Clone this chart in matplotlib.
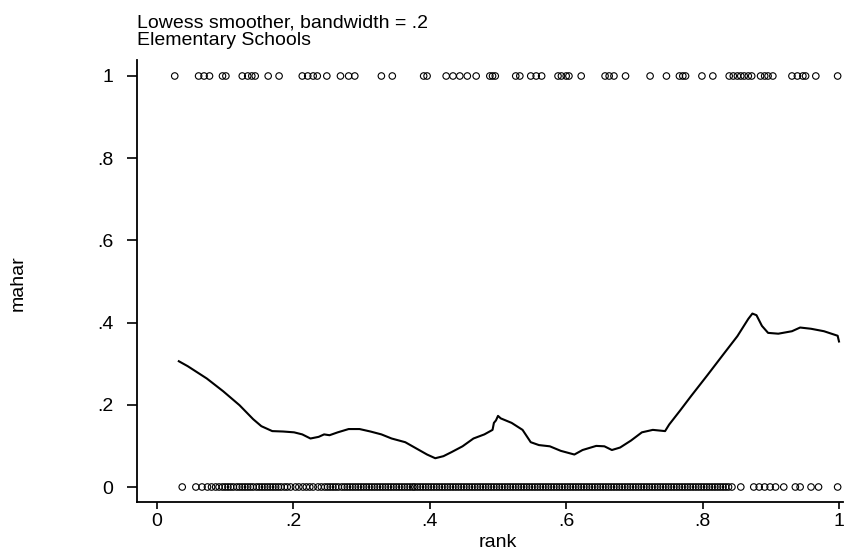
import matplotlib
matplotlib.use("Agg")
import matplotlib.pyplot as plt

plt.rcParams['font.family'] = ['Liberation Sans', 'DejaVu Sans']

title_lines = ["Lowess smoother, bandwidth = .2", "Elementary Schools"]
x_label = "rank"
y_label = "mahar"
x_ticks = [0, 0.2, 0.4, 0.6, 0.8, 1.0]
x_ticklabels = ["0", ".2", ".4", ".6", ".8", "1"]
y_ticks = [0, 0.2, 0.4, 0.6, 0.8, 1.0]
y_ticklabels = ["0", ".2", ".4", ".6", ".8", "1"]

# observations with mahar = 1
rank_mahar1 = [0.026, 0.061, 0.069, 0.077, 0.096, 0.101, 0.125, 0.133, 0.139, 0.144,
               0.163, 0.179, 0.213, 0.221, 0.229, 0.235, 0.249, 0.269, 0.281, 0.290,
               0.329, 0.345, 0.391, 0.396, 0.424, 0.434, 0.444, 0.455, 0.468, 0.488,
               0.492, 0.496, 0.526, 0.532, 0.548, 0.556, 0.564, 0.588, 0.593, 0.600,
               0.604, 0.622, 0.657, 0.663, 0.670, 0.687, 0.723, 0.747, 0.766, 0.771,
               0.775, 0.799, 0.815, 0.839, 0.845, 0.851, 0.856, 0.861, 0.867, 0.872,
               0.885, 0.891, 0.896, 0.903, 0.931, 0.939, 0.947, 0.951, 0.966, 0.998]

# observations with mahar = 0
rank_mahar0 = [0.037, 0.057, 0.066, 0.074, 0.080, 0.086, 0.091, 0.096, 0.100, 0.104,
               0.108, 0.112, 0.117, 0.121, 0.125, 0.129, 0.133, 0.137, 0.141, 0.146,
               0.150, 0.154, 0.158, 0.162, 0.166, 0.170, 0.174, 0.178, 0.182, 0.187,
               0.191, 0.196, 0.203, 0.208, 0.214, 0.219, 0.224, 0.229, 0.236, 0.241,
               0.246, 0.250, 0.254, 0.258, 0.262, 0.266, 0.271, 0.275, 0.279, 0.283,
               0.287, 0.291, 0.295, 0.299, 0.303, 0.307, 0.311, 0.315, 0.319, 0.323,
               0.327, 0.331, 0.335, 0.339, 0.343, 0.347, 0.351, 0.355, 0.359, 0.363,
               0.367, 0.371, 0.375, 0.378, 0.382, 0.386, 0.390, 0.394, 0.398, 0.402,
               0.406, 0.410, 0.414, 0.418, 0.422, 0.426, 0.430, 0.434, 0.438, 0.442,
               0.446, 0.450, 0.454, 0.458, 0.462, 0.466, 0.470, 0.474, 0.478, 0.482,
               0.486, 0.490, 0.494, 0.498, 0.502, 0.506, 0.510, 0.514, 0.518, 0.522,
               0.526, 0.530, 0.534, 0.538, 0.542, 0.546, 0.550, 0.554, 0.558, 0.562,
               0.566, 0.570, 0.574, 0.578, 0.582, 0.586, 0.590, 0.594, 0.598, 0.602,
               0.606, 0.610, 0.614, 0.618, 0.622, 0.626, 0.630, 0.634, 0.638, 0.642,
               0.646, 0.650, 0.654, 0.658, 0.662, 0.666, 0.670, 0.674, 0.678, 0.682,
               0.686, 0.690, 0.694, 0.698, 0.702, 0.706, 0.710, 0.714, 0.718, 0.722,
               0.726, 0.730, 0.734, 0.738, 0.742, 0.746, 0.750, 0.754, 0.758, 0.762,
               0.766, 0.770, 0.774, 0.778, 0.782, 0.786, 0.790, 0.794, 0.798, 0.802,
               0.806, 0.810, 0.814, 0.818, 0.822, 0.826, 0.830, 0.834, 0.838, 0.843,
               0.856, 0.875, 0.883, 0.891, 0.899, 0.907, 0.919, 0.936, 0.943, 0.959,
               0.970, 0.998]

# lowess smooth
lowess_x = [0.032, 0.045, 0.073, 0.097, 0.121, 0.141, 0.153, 0.169, 0.185, 0.201,
            0.213, 0.225, 0.237, 0.245, 0.253, 0.265, 0.281, 0.297, 0.313, 0.329,
            0.344, 0.364, 0.380, 0.396, 0.408, 0.420, 0.432, 0.448, 0.464, 0.480,
            0.492, 0.494, 0.497, 0.500, 0.504, 0.520, 0.536, 0.548, 0.560, 0.576,
            0.592, 0.612, 0.624, 0.644, 0.656, 0.667, 0.679, 0.695, 0.711, 0.727,
            0.745, 0.751, 0.767, 0.783, 0.807, 0.831, 0.851, 0.867, 0.873, 0.879,
            0.887, 0.896, 0.911, 0.931, 0.943, 0.959, 0.978, 0.998, 1.000]
lowess_y = [0.306, 0.294, 0.264, 0.233, 0.199, 0.165, 0.148, 0.136, 0.135, 0.133,
            0.128, 0.118, 0.122, 0.128, 0.126, 0.133, 0.141, 0.141, 0.135, 0.128,
            0.118, 0.109, 0.094, 0.079, 0.070, 0.075, 0.085, 0.099, 0.118, 0.128,
            0.139, 0.156, 0.162, 0.173, 0.167, 0.156, 0.139, 0.109, 0.102, 0.099,
            0.088, 0.079, 0.090, 0.100, 0.099, 0.090, 0.096, 0.113, 0.133, 0.139,
            0.136, 0.152, 0.186, 0.221, 0.272, 0.324, 0.367, 0.409, 0.422, 0.418,
            0.392, 0.375, 0.373, 0.379, 0.388, 0.385, 0.379, 0.368, 0.354]

W, H = 853, 554
fig = plt.figure(figsize=(W / 100, H / 100), dpi=100)
ax = fig.add_axes([137 / W, 1 - 502 / H, (843 - 137) / W, (502 - 60) / H])

ax.scatter(rank_mahar1, [1] * len(rank_mahar1), s=22, facecolors='none',
           edgecolors='black', linewidths=0.8, zorder=3)
ax.scatter(rank_mahar0, [0] * len(rank_mahar0), s=22, facecolors='none',
           edgecolors='black', linewidths=0.8, zorder=3)
ax.plot(lowess_x, lowess_y, color='black', lw=1.5, zorder=4)

ax.set_xlim((137 - 157) / 682, (843 - 157) / 682)
ax.set_ylim((487 - 502) / 411, (487 - 60) / 411)

ax.set_xticks(x_ticks)
ax.set_xticklabels(x_ticklabels)
ax.set_yticks(y_ticks)
ax.set_yticklabels(y_ticklabels)

for side in ['top', 'right']:
    ax.spines[side].set_visible(False)
for side in ['left', 'bottom']:
    ax.spines[side].set_linewidth(1.3)

ax.tick_params(axis='x', direction='out', length=5, width=1.2, labelsize=14, pad=3)
ax.tick_params(axis='y', direction='out', length=7, width=1.2, labelsize=14, pad=10)

fig.text(137 / W, 1 - 27 / H, title_lines[0], fontsize=14, ha='left', va='baseline')
fig.text(137 / W, 1 - 45 / H, title_lines[1], fontsize=14, ha='left', va='baseline')
fig.text(498 / W, 1 - 547 / H, x_label, fontsize=14, ha='center', va='baseline')
fig.text(18 / W, 1 - 283 / H, y_label, fontsize=14, ha='center', va='center',
         rotation=90)

fig.savefig("out.png", dpi=100)
